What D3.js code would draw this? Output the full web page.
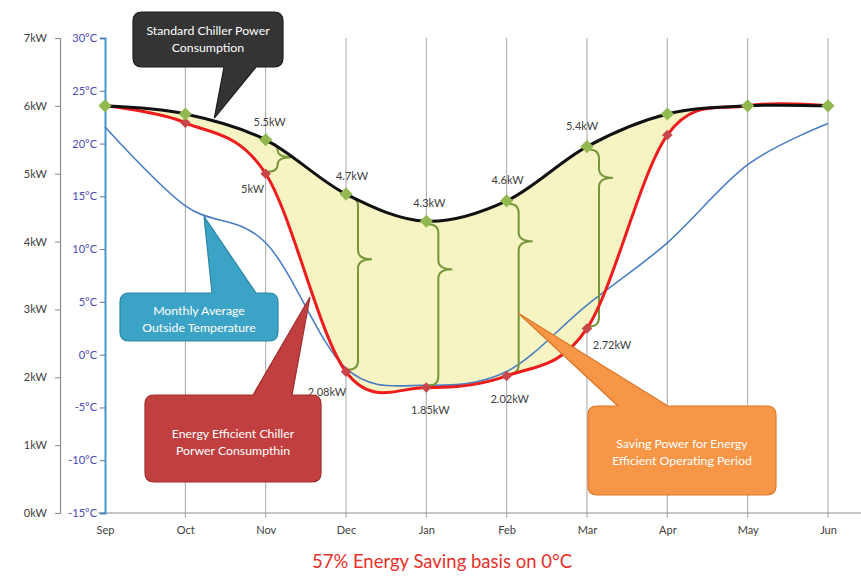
<!DOCTYPE html>
<html>
<head>
<meta charset="utf-8">
<script src="https://cdn.jsdelivr.net/npm/d3@7"></script>
<style>
  html, body { margin: 0; padding: 0; background: #fff; }
  svg { display: block; }
  text { font-family: Lato, "Open Sans", "DejaVu Sans", sans-serif; }
</style>
</head>
<body>
<svg id="chart" width="861" height="576"></svg>
<script>
// Monthly chiller power (kW) and outside temperature (°C), Sep to Jun
const months = ["Sep", "Oct", "Nov", "Dec", "Jan", "Feb", "Mar", "Apr", "May", "Jun"];
const standardKW = [6.0, 5.88, 5.5, 4.7, 4.3, 4.6, 5.4, 5.88, 6.0, 6.0];
const efficientKW = [6.0, 5.75, 5.0, 2.08, 1.85, 2.02, 2.72, 5.57, 6.0, 6.0];
const outsideTemp = [21.6, 14.1, 10.6, -1.3, -2.9, -1.6, 4.7, 10.6, 18.0, 21.9];
const kwTicks = [0, 1, 2, 3, 4, 5, 6, 7];
const tempTicks = [-15, -10, -5, 0, 5, 10, 15, 20, 25, 30];
// months whose values are labelled and bracketed
const labelledMonths = ["Nov", "Dec", "Jan", "Feb", "Mar"];
const titleText = "57% Energy Saving basis on 0°C";

// label offsets (px) from their markers, and brace tip position (fraction of span)
const standardLabelOffset = [[4, -18], [6, -18], [3, -18], [1, -21], [-5, -20]];
const efficientLabelOffset = [[-13, 15], [-19, 20], [4, 23], [3, 23], [25, 17]];
const braceTip = [0.5, 0.36, 0.28, 0.22, 0.16];

const svg = d3.select("#chart");

const x = d3.scalePoint().domain(months).range([105, 828]);
const yKW = d3.scaleLinear().domain([0, 7]).range([513, 38]);
const yT = d3.scaleLinear().domain([-15, 30]).range([513, 38]);
const curve = d3.curveCardinal.tension(0);

// vertical gridlines
svg.append("g").selectAll("line")
  .data(months.slice(1))
  .join("line")
  .attr("x1", d => x(d)).attr("x2", d => x(d))
  .attr("y1", yKW(7)).attr("y2", yKW(0) + 5)
  .attr("stroke", "#a6a6a6").attr("stroke-width", 1);

// horizontal baseline
svg.append("line")
  .attr("x1", 98).attr("x2", 861)
  .attr("y1", yKW(0)).attr("y2", yKW(0))
  .attr("stroke", "#8c8c8c").attr("stroke-width", 1);

// month axis
const xAxis = svg.append("g")
  .attr("transform", `translate(0,${yKW(0)})`)
  .call(d3.axisBottom(x).tickSize(0).tickPadding(13));
xAxis.select(".domain").remove();
xAxis.selectAll("text").attr("font-size", 11).attr("fill", "#404040");

// kW axis
const kwAxis = svg.append("g")
  .attr("transform", "translate(60,0)")
  .call(d3.axisLeft(yKW).tickValues(kwTicks).tickFormat(d => d + "kW").tickSize(5).tickPadding(8));
kwAxis.select(".domain").attr("stroke", "#8c8c8c").attr("stroke-width", 1.2);
kwAxis.selectAll(".tick line").attr("stroke", "#8c8c8c");
kwAxis.selectAll("text").attr("font-size", 11).attr("fill", "#404040");

// temperature axis
const tAxis = svg.append("g")
  .attr("transform", `translate(${x("Sep")},0)`)
  .call(d3.axisLeft(yT).tickValues(tempTicks).tickFormat(d => d + "°C").tickSize(5).tickPadding(3));
tAxis.select(".domain").attr("stroke", "#3f97d6").attr("stroke-width", 2);
tAxis.selectAll(".tick line").attr("stroke", "#6c6c9c");
tAxis.selectAll("text").attr("font-size", 11).attr("fill", "#4848b8");

// saving area between the two power curves
const area = d3.area()
  .x((d, i) => x(months[i]))
  .y0((d, i) => yKW(efficientKW[i]))
  .y1((d, i) => yKW(standardKW[i]))
  .curve(curve);
svg.append("path")
  .attr("d", area(months))
  .attr("fill", "#f6f4c2");

// outside temperature
const tempLine = d3.line().x((d, i) => x(months[i])).y(d => yT(d)).curve(curve);
svg.append("path")
  .attr("d", tempLine(outsideTemp))
  .attr("fill", "none").attr("stroke", "#4a7ec4").attr("stroke-width", 1.6);

// braces marking the saving at each labelled month
function bracePath(bx, y0, y1, frac) {
  const xb = bx + 10, xt = bx + 24;
  const yt = y0 + (y1 - y0) * frac;
  const r = Math.min(9, (yt - y0) / 2, (y1 - yt) / 2);
  return `M${bx},${y0} Q${xb},${y0} ${xb},${y0 + r} L${xb},${yt - r} Q${xb},${yt} ${xt},${yt}` +
         ` Q${xb},${yt} ${xb},${yt + r} L${xb},${y1 - r} Q${xb},${y1} ${bx},${y1}`;
}
svg.append("g").selectAll("path")
  .data(labelledMonths)
  .join("path")
  .attr("d", (m, k) => {
    const i = months.indexOf(m);
    return bracePath(x(m) + 2, yKW(standardKW[i]) + 3, yKW(efficientKW[i]) - 2, braceTip[k]);
  })
  .attr("fill", "none").attr("stroke", "#76963a").attr("stroke-width", 2);

// power curves
const kwLine = d3.line().x((d, i) => x(months[i])).y(d => yKW(d)).curve(curve);
svg.append("path")
  .attr("d", kwLine(efficientKW))
  .attr("fill", "none").attr("stroke", "#ee1c1c").attr("stroke-width", 3);
svg.append("path")
  .attr("d", kwLine(standardKW))
  .attr("fill", "none").attr("stroke", "#111").attr("stroke-width", 3);

// markers
const diamond = d3.symbol().type(d3.symbolDiamond2);
svg.append("g").selectAll("path")
  .data(efficientKW)
  .join("path")
  .attr("d", diamond.size(70)())
  .attr("transform", (d, i) => `translate(${x(months[i])},${yKW(d)})`)
  .attr("fill", "#c8464a");
svg.append("g").selectAll("path")
  .data(standardKW)
  .join("path")
  .attr("d", diamond.size(110)())
  .attr("transform", (d, i) => `translate(${x(months[i])},${yKW(d)})`)
  .attr("fill", "#92b850");

// value labels
const labels = svg.append("g").attr("font-size", 11).attr("fill", "#404040").attr("text-anchor", "middle");
labelledMonths.forEach((m, k) => {
  const i = months.indexOf(m);
  labels.append("text")
    .attr("x", x(m) + standardLabelOffset[k][0])
    .attr("y", yKW(standardKW[i]) + standardLabelOffset[k][1])
    .attr("dy", "0.35em")
    .text(standardKW[i] + "kW");
  labels.append("text")
    .attr("x", x(m) + efficientLabelOffset[k][0])
    .attr("y", yKW(efficientKW[i]) + efficientLabelOffset[k][1])
    .attr("dy", "0.35em")
    .text(efficientKW[i] + "kW");
});

// callouts: rounded box with a wedge on its top or bottom edge
function calloutPath(bx, by, w, h, r, edge, b0, b1, tx, ty) {
  let p = `M${bx + r},${by}`;
  if (edge === "top") p += ` L${b0},${by} L${tx},${ty} L${b1},${by}`;
  p += ` L${bx + w - r},${by} Q${bx + w},${by} ${bx + w},${by + r}`;
  p += ` L${bx + w},${by + h - r} Q${bx + w},${by + h} ${bx + w - r},${by + h}`;
  if (edge === "bottom") p += ` L${b1},${by + h} L${tx},${ty} L${b0},${by + h}`;
  p += ` L${bx + r},${by + h} Q${bx},${by + h} ${bx},${by + h - r}`;
  p += ` L${bx},${by + r} Q${bx},${by} ${bx + r},${by} Z`;
  return p;
}
const callouts = [
  { box: [133, 12, 150, 55], edge: "bottom", base: [224, 256], tip: [x("Oct") + 29, yKW(5.82)],
    fill: "#343434", stroke: "#1e1e1e", lines: ["Standard Chiller Power", "Consumption"], ty: 31 },
  { box: [120, 293, 158, 48], edge: "top", base: [212, 256], tip: [204, yT(13.1)],
    fill: "#3ba4c6", stroke: "#2c86a4", lines: ["Monthly Average", "Outside Temperature"], ty: 311 },
  { box: [145, 395, 176, 87], edge: "top", base: [253, 292], tip: [310, 297],
    fill: "#c1403f", stroke: "#9e2e2d", lines: ["Energy Efficient Chiller", "Porwer Consumpthin"], ty: 434 },
  { box: [588, 406, 188, 89], edge: "top", base: [618, 668], tip: [518, 313],
    fill: "#f79646", stroke: "#d9782c", lines: ["Saving Power for Energy", "Efficient Operating Period"], ty: 444 }
];
callouts.forEach(c => {
  const [bx, by, w, h] = c.box;
  svg.append("path")
    .attr("d", calloutPath(bx, by, w, h, 9, c.edge, c.base[0], c.base[1], c.tip[0], c.tip[1]))
    .attr("fill", c.fill).attr("stroke", c.stroke).attr("stroke-width", 1.2);
  c.lines.forEach((t, j) => {
    svg.append("text")
      .attr("x", bx + w / 2).attr("y", c.ty + j * 16.5)
      .attr("dy", "0.35em")
      .attr("text-anchor", "middle")
      .attr("font-size", 12.3)
      .attr("fill", "#fff")
      .text(t);
  });
});

// caption
svg.append("text")
  .attr("x", 442).attr("y", 562).attr("dy", "0.35em")
  .attr("text-anchor", "middle")
  .attr("font-family", "'Open Sans', sans-serif")
  .attr("font-size", 18.5)
  .attr("fill", "#e8302c")
  .text(titleText);
</script>
</body>
</html>
